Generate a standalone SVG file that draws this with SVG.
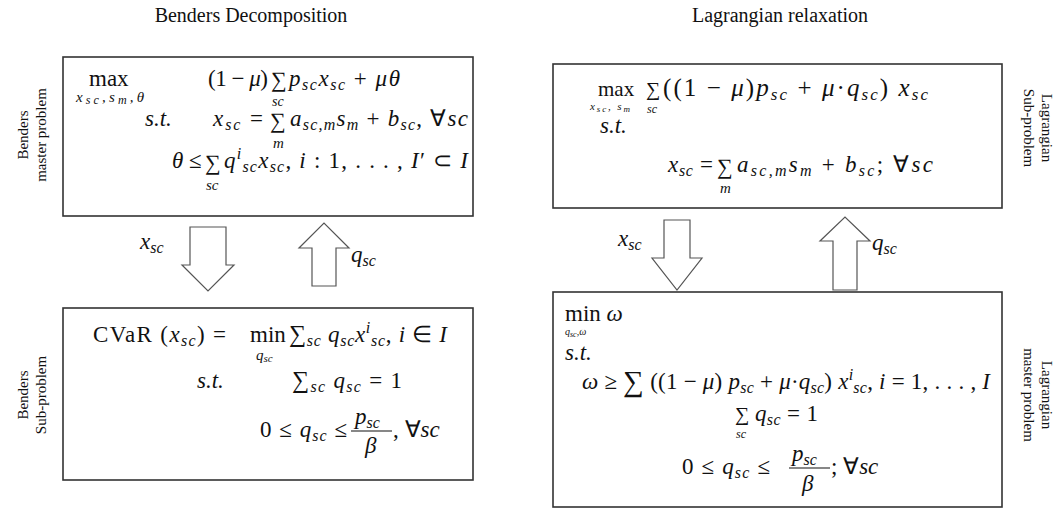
<svg xmlns="http://www.w3.org/2000/svg" width="1061" height="511" viewBox="0 0 1061 511">
<style>
.t{font-family:"Liberation Serif",serif;font-size:20px;fill:#111}
.lab{font-family:"Liberation Serif",serif;font-size:15px;fill:#111;text-anchor:middle}
.m{font-family:"Liberation Serif",serif;font-size:23px;fill:#111}
.i{font-style:italic}
.sb{font-size:16px;font-style:italic}
.sm{font-family:"Liberation Serif",serif;font-size:15px;font-style:italic;fill:#111}
.tiny{font-family:"Liberation Serif",serif;font-size:15px;font-style:italic;fill:#111}
.sig{font-family:"Liberation Serif",serif;font-size:22px;fill:#111}
.box{fill:#fff;stroke:#333;stroke-width:1.6}
.arr{fill:#fff;stroke:#555;stroke-width:1.2}
</style>
<rect width="1061" height="511" fill="#fff"/>
<text class="t" x="251" y="22" text-anchor="middle">Benders Decomposition</text>
<text class="t" x="780" y="22" text-anchor="middle">Lagrangian relaxation</text>

<g id="benders-master">
<rect class="box" x="63" y="57" width="410" height="159"/>
<text class="lab" transform="translate(28,135) rotate(-90)"><tspan x="0" y="0">Benders</tspan><tspan x="0" y="18">master problem</tspan></text>
<text class="m" x="89" y="86">max</text>
<text class="tiny" x="76" y="102" textLength="68" lengthAdjust="spacing"><tspan>x</tspan><tspan style="font-size:12px" dy="2">sc</tspan><tspan dy="-2">,s</tspan><tspan style="font-size:12px" dy="2">m</tspan><tspan dy="-2">,θ</tspan></text>
<text class="m" x="208" y="86" textLength="60" lengthAdjust="spacing">(1 − <tspan class="i">μ</tspan>)</text>
<text class="sig" x="271" y="87">∑</text>
<text class="sm" x="272" y="106" style="font-size:14px">sc</text>
<text class="m" x="289" y="86" textLength="111" lengthAdjust="spacing"><tspan class="i">p</tspan><tspan class="sb" dy="4">sc</tspan><tspan class="i" dy="-4">x</tspan><tspan class="sb" dy="4">sc</tspan><tspan dy="-4"> + </tspan><tspan class="i">μθ</tspan></text>
<text class="m i" x="145" y="126">s.t.</text>
<text class="m" x="213" y="126" textLength="50" lengthAdjust="spacing"><tspan class="i">x</tspan><tspan class="sb" dy="4">sc</tspan><tspan dy="-4"> =</tspan></text>
<text class="sig" x="270" y="128">∑</text>
<text class="sm" x="273" y="148">m</text>
<text class="m" x="290" y="126" textLength="178" lengthAdjust="spacing"><tspan class="i">a</tspan><tspan class="sb" dy="4">sc,m</tspan><tspan class="i" dy="-4">s</tspan><tspan class="sb" dy="4">m</tspan><tspan dy="-4"> + </tspan><tspan class="i">b</tspan><tspan class="sb" dy="4">sc</tspan><tspan dy="-4">, ∀</tspan><tspan class="i">sc</tspan></text>
<text class="m" x="172" y="168"><tspan class="i">θ</tspan> ≤</text>
<text class="sig" x="205" y="170">∑</text>
<text class="sm" x="206" y="190">sc</text>
<text class="m" x="224" y="168" textLength="244" lengthAdjust="spacing"><tspan class="i">q</tspan><tspan class="sb" dy="-9">i</tspan><tspan class="sb" dy="13">sc</tspan><tspan class="i" dy="-4">x</tspan><tspan class="sb" dy="4">sc</tspan><tspan dy="-4">, </tspan><tspan class="i">i</tspan> : 1, . . . , <tspan class="i">I</tspan>′ ⊂ <tspan class="i">I</tspan></text>
</g>

<g id="benders-sub">
<rect class="box" x="63" y="308" width="410" height="172"/>
<text class="lab" transform="translate(28,395) rotate(-90)"><tspan x="0" y="0">Benders</tspan><tspan x="0" y="18">Sub-problem</tspan></text>
<text class="m" x="93" y="342" textLength="133" lengthAdjust="spacing">CVaR (<tspan class="i">x</tspan><tspan class="sb" dy="4">sc</tspan><tspan dy="-4">) =</tspan></text>
<text class="m" x="250" y="342">min</text>
<text class="sm" x="256" y="360">q<tspan style="font-size:11px" dy="2">sc</tspan></text>
<text class="m" x="289" y="342" textLength="158" lengthAdjust="spacing"><tspan style="font-size:24px">∑</tspan><tspan class="sb" dy="4">sc</tspan><tspan class="i" dy="-4"> q</tspan><tspan class="sb" dy="4">sc</tspan><tspan class="i" dy="-4">x</tspan><tspan class="sb" dy="-9">i</tspan><tspan class="sb" dy="13">sc</tspan><tspan dy="-4">, </tspan><tspan class="i">i</tspan> ∈ <tspan class="i">I</tspan></text>
<text class="m i" x="197" y="388">s.t.</text>
<text class="m" x="292" y="388" textLength="110" lengthAdjust="spacing"><tspan style="font-size:24px">∑</tspan><tspan class="sb" dy="4">sc</tspan><tspan class="i" dy="-4"> q</tspan><tspan class="sb" dy="4">sc</tspan><tspan dy="-4"> = 1</tspan></text>
<text class="m" x="260" y="437" textLength="87" lengthAdjust="spacing">0 ≤ <tspan class="i">q</tspan><tspan class="sb" dy="4">sc</tspan><tspan dy="-4"> ≤</tspan></text>
<text class="m" x="355" y="424"><tspan class="i">p</tspan><tspan class="sb" dy="4">sc</tspan></text>
<line x1="351" y1="431" x2="392" y2="431" stroke="#111" stroke-width="1.2"/>
<text class="m i" x="365" y="453">β</text>
<text class="m" x="393" y="437">, ∀<tspan class="i">sc</tspan></text>
</g>

<g id="lagrangian-sub">
<rect class="box" x="553" y="64" width="449" height="144"/>
<text class="lab" transform="translate(1042,128) rotate(90)"><tspan x="0" y="0">Lagrangian</tspan><tspan x="0" y="18">Sub-problem</tspan></text>
<text class="m" x="598" y="96" style="font-size:21px">max</text>
<text class="tiny" x="590" y="110" style="font-size:11px" textLength="40" lengthAdjust="spacing">x<tspan style="font-size:9px" dy="2">sc</tspan><tspan dy="-2">, s</tspan><tspan style="font-size:9px" dy="2">m</tspan></text>
<text class="m" x="646" y="96" style="font-size:20px">∑</text>
<text class="sm" x="647" y="113" style="font-size:12px">sc</text>
<text class="m" x="663" y="96" style="font-size:25px" textLength="265" lengthAdjust="spacing">((1 − <tspan class="i">μ</tspan>)<tspan class="i">p</tspan><tspan class="sb" dy="4" style="font-size:17px">sc</tspan><tspan dy="-4"> + </tspan><tspan class="i">μ</tspan>·<tspan class="i">q</tspan><tspan class="sb" dy="4" style="font-size:17px">sc</tspan><tspan dy="-4">) </tspan><tspan class="i">x</tspan><tspan class="sb" dy="4" style="font-size:17px">sc</tspan></text>
<text class="m i" x="600" y="133">s.t.</text>
<text class="m" x="668" y="172" textLength="45" lengthAdjust="spacing"><tspan class="i">x</tspan><tspan class="sb" dy="4">sc</tspan><tspan dy="-4"> =</tspan></text>
<text class="sig" x="717" y="174">∑</text>
<text class="sm" x="720" y="193">m</text>
<text class="m" x="737" y="172" textLength="196" lengthAdjust="spacing"><tspan class="i">a</tspan><tspan class="sb" dy="4">sc,m</tspan><tspan class="i" dy="-4">s</tspan><tspan class="sb" dy="4">m</tspan><tspan dy="-4"> + </tspan><tspan class="i">b</tspan><tspan class="sb" dy="4">sc</tspan><tspan dy="-4">; ∀</tspan><tspan class="i">sc</tspan></text>
</g>

<g id="lagrangian-master">
<rect class="box" x="553" y="292" width="449" height="215"/>
<text class="lab" transform="translate(1042,395) rotate(90)"><tspan x="0" y="0">Lagrangian</tspan><tspan x="0" y="18">master problem</tspan></text>
<text class="m" x="565" y="321">min <tspan class="i">ω</tspan></text>
<text class="tiny" x="565" y="335" style="font-size:10px">q<tspan style="font-size:8px" dy="2">sc</tspan><tspan dy="-2">,ω</tspan></text>
<text class="m i" x="565" y="360">s.t.</text>
<text class="m" x="582" y="389" textLength="408" lengthAdjust="spacing"><tspan class="i">ω</tspan> ≥ <tspan style="font-size:29px" dy="2">∑</tspan><tspan dy="-2"> ((1 − </tspan><tspan class="i">μ</tspan>) <tspan class="i">p</tspan><tspan class="sb" dy="4">sc</tspan><tspan dy="-4"> + </tspan><tspan class="i">μ</tspan>·<tspan class="i">q</tspan><tspan class="sb" dy="4">sc</tspan><tspan dy="-4">) </tspan><tspan class="i">x</tspan><tspan class="sb" dy="-9">i</tspan><tspan class="sb" dy="13">sc</tspan><tspan dy="-4">, </tspan><tspan class="i">i</tspan> = 1, . . . , <tspan class="i">I</tspan></text>
<text class="m" x="735" y="421" style="font-size:20px">∑</text>
<text class="sm" x="736" y="438" style="font-size:12px">sc</text>
<text class="m" x="755" y="421" textLength="63" lengthAdjust="spacing"><tspan class="i">q</tspan><tspan class="sb" dy="4">sc</tspan><tspan dy="-4"> = 1</tspan></text>
<text class="m" x="682" y="474" textLength="88" lengthAdjust="spacing">0 ≤ <tspan class="i">q</tspan><tspan class="sb" dy="4">sc</tspan><tspan dy="-4"> ≤</tspan></text>
<text class="m" x="792" y="461"><tspan class="i">p</tspan><tspan class="sb" dy="4">sc</tspan></text>
<line x1="789" y1="468" x2="830" y2="468" stroke="#111" stroke-width="1.2"/>
<text class="m i" x="802" y="491">β</text>
<text class="m" x="831" y="474">; ∀<tspan class="i">sc</tspan></text>
</g>

<g id="connectors">
<path class="arr" d="M190,227 H226 V265 H234 L208,291 L182,265 H190 Z"/>
<text class="m" x="140" y="249"><tspan class="i">x</tspan><tspan class="sb" dy="4">sc</tspan></text>
<path class="arr" d="M312,286 H336 V248 H349 L324,223 L299,248 H312 Z"/>
<text class="m" x="351" y="262"><tspan class="i">q</tspan><tspan class="sb" dy="4">sc</tspan></text>
<path class="arr" d="M664,220 H690 V258 H702 L677,290 L652,258 H664 Z"/>
<text class="m" x="618" y="246"><tspan class="i">x</tspan><tspan class="sb" dy="4">sc</tspan></text>
<path class="arr" d="M833,290 H857 V241 H870 L845,217 L820,241 H833 Z"/>
<text class="m" x="872" y="250"><tspan class="i">q</tspan><tspan class="sb" dy="4">sc</tspan></text>
</g>
</svg>
